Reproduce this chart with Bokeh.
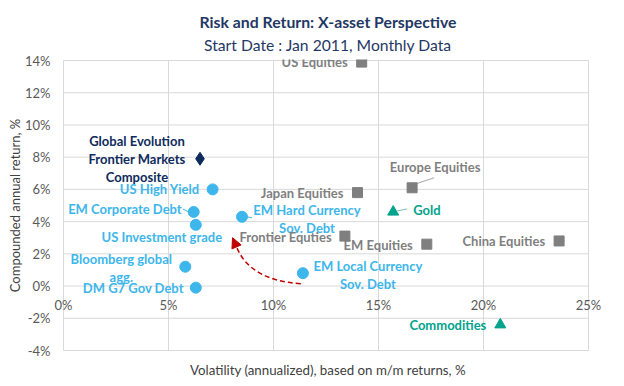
from bokeh.plotting import figure
from bokeh.models import (ColumnDataSource, Range1d, FixedTicker, PrintfTickFormatter,
                          Title, Arrow, NormalHead)
from bokeh.core.properties import value
from bokeh.embed import file_html
from bokeh.resources import INLINE

# ---------------- data ----------------
names = ["US Equities", "Global Evolution\nFrontier Markets\nComposite", "US High Yield",
         "EM Corporate Debt", "US Investment grade", "EM Hard Currency\nSov. Debt",
         "Bloomberg global\nagg.", "DM G7 Gov Debt", "EM Local Currency\nSov. Debt",
         "Japan Equities", "Europe Equities", "Gold", "Frontier Equties", "EM Equities",
         "China Equities", "Commodities"]
volatility = [14.2, 6.5, 7.1, 6.2, 6.3, 8.5, 5.8, 6.3, 11.4, 14.0, 16.6, 15.7, 13.4, 17.3, 23.6, 20.8]
ret = [13.9, 7.9, 6.0, 4.6, 3.8, 4.3, 1.2, -0.1, 0.8, 5.8, 6.1, 4.6, 3.1, 2.6, 2.8, -2.4]
kind = ["equity", "frontier", "bond", "bond", "bond", "bond", "bond", "bond", "bond",
        "equity", "equity", "commodity", "equity", "equity", "equity", "commodity"]

x_ticks = [0, 5, 10, 15, 20, 25]
y_ticks = [-4, -2, 0, 2, 4, 6, 8, 10, 12, 14]

# ---------------- styling ----------------
STYLE = {
    "bond": ("circle", "#3DB6EB", 11),
    "equity": ("square", "#7F7F7F", 10),
    "commodity": ("triangle", "#00A38C", 11),
    "frontier": ("diamond", "#0E2B5C", 13),
}
TEXT_COLOR = {"bond": "#3DB6EB", "equity": "#7F7F7F", "commodity": "#00A38C", "frontier": "#0E2B5C"}

# label placement (pixels relative to the marker; +dy is down on screen)
lab_dx = [-14, -63, -13, -12, -34, 65, -64, -12, 65, -14, 23, 20, -13, -14, -14, -14]
lab_dy = [0, 0, 0, -3, 12, 2, 1, 0, 1.5, 0, -21, -2, 1, 1, 0, 0]
lab_align = ["right", "center", "right", "right", "center", "center", "center", "right",
             "center", "right", "center", "left", "right", "right", "right", "right"]

src = ColumnDataSource(dict(
    x=volatility, y=ret, name=names,
    marker=[STYLE[k][0] for k in kind],
    color=[STYLE[k][1] for k in kind],
    size=[STYLE[k][2] for k in kind],
    tcolor=[TEXT_COLOR[k] for k in kind],
    dx=lab_dx, dy=lab_dy, align=lab_align,
))

FONT = "Lato"
GRID = "#D9D9D9"

# pixel geometry: 21 px per 1% of volatility, 290 px for the 18% return span
PX_X = 21.0
PX_Y = 290.0 / 18.0
PAD_L, PAD_R, PAD_V = 11, 15, 1   # room inside the frame for the edge tick labels

x0, x1 = x_ticks[0], x_ticks[-1]
y0, y1 = y_ticks[0], y_ticks[-1]

p = figure(width=624, height=386,
           x_range=Range1d(x0 - PAD_L / PX_X, x1 + PAD_R / PX_X),
           y_range=Range1d(y0 - PAD_V / PX_Y, y1 + PAD_V / PX_Y),
           output_backend="svg", toolbar_location=None,
           min_border_left=52, min_border_right=21, min_border_top=59, min_border_bottom=35)
p.background_fill_color = "white"
p.border_fill_color = "white"
p.outline_line_color = None
p.xgrid.visible = False
p.ygrid.visible = False

# grid drawn only over the 0..25 / -4..14 box
p.segment(x0=x_ticks, y0=[y0] * len(x_ticks), x1=x_ticks, y1=[y1] * len(x_ticks),
          line_color=GRID, line_width=1)
p.segment(x0=[x0] * len(y_ticks), y0=y_ticks, x1=[x1] * len(y_ticks), y1=y_ticks,
          line_color=GRID, line_width=1)

# x axis sits on the 0% line
xa = p.xaxis[0]
xa.fixed_location = 0
xa.ticker = FixedTicker(ticks=x_ticks)
xa.formatter = PrintfTickFormatter(format="%d%%")
xa.axis_line_color = None
xa.major_tick_line_color = None
xa.minor_tick_line_color = None
xa.major_tick_out = 0
xa.major_tick_in = 0
xa.major_label_standoff = 11
xa.major_label_text_font = FONT
xa.major_label_text_font_size = "13px"
xa.major_label_text_color = "#595959"

ya = p.yaxis[0]
ya.ticker = FixedTicker(ticks=y_ticks)
ya.formatter = PrintfTickFormatter(format="%d%%")
ya.axis_line_color = None
ya.major_tick_line_color = None
ya.minor_tick_line_color = None
ya.major_tick_out = 0
ya.major_tick_in = 0
ya.major_label_standoff = 2
ya.major_label_text_font = FONT
ya.major_label_text_font_size = "13px"
ya.major_label_text_color = "#595959"
ya.axis_label = "Compounded annual return, %"
ya.axis_label_text_font = FONT
ya.axis_label_text_font_style = "normal"
ya.axis_label_text_font_size = "13px"
ya.axis_label_text_color = "#404040"
ya.axis_label_standoff = -1

# titles
p.add_layout(Title(text="Start Date : Jan 2011, Monthly Data", align="center",
                   text_font=FONT, text_font_size="15.7px", text_font_style="normal",
                   text_color="#1F3864", offset=6, standoff=11), "above")
p.add_layout(Title(text="Risk and Return: X-asset Perspective", align="center",
                   text_font=FONT, text_font_size="15.8px", text_font_style="bold",
                   text_color="#1F3864", offset=6, standoff=-4), "above")
p.add_layout(Title(text="Volatility (annualized), based on m/m returns, %", align="center",
                   text_font=FONT, text_font_size="13.3px", text_font_style="normal",
                   text_color="#404040", standoff=17), "below")

# dashed arrow annotation (data coordinates)
arr_start = (11.3, 0.15)
arr_ctrl = (8.9, 0.35)
arr_end = (8.25, 2.4)
arr_tip = (8.05, 3.0)
p.quadratic(x0=[arr_start[0]], y0=[arr_start[1]], x1=[arr_end[0]], y1=[arr_end[1]],
            cx=[arr_ctrl[0]], cy=[arr_ctrl[1]], line_color="#C00000", line_width=1.5,
            line_dash="5 3")
p.add_layout(Arrow(end=NormalHead(size=10, fill_color="#C00000", line_color="#C00000"),
                   x_start=arr_end[0], y_start=arr_end[1], x_end=arr_tip[0], y_end=arr_tip[1],
                   line_alpha=0))

# leader lines: (index, start px offset, end px offset), +y up
leaders = [(3, (-11, 3), (-5, 0), "#3DB6EB"), (5, (5, 0), (10, -1), "#3DB6EB"),
           (10, (4, 4), (22, 10), "#A6A6A6"), (11, (4, 1), (14, 3), "#7FBFB5")]
for i, a, b, c in leaders:
    p.segment(x0=[volatility[i] + a[0] / PX_X], y0=[ret[i] + a[1] / PX_Y],
              x1=[volatility[i] + b[0] / PX_X], y1=[ret[i] + b[1] / PX_Y],
              line_color=c, line_width=1)

# markers
p.scatter(x="x", y="y", marker="marker", size="size", fill_color="color",
          line_color="color", source=src)

# labels
p.text(x="x", y="y", text="name", x_offset="dx", y_offset="dy", text_align="align",
       text_baseline="middle", text_color="tcolor", text_font=value(FONT),
       text_font_style="bold", text_font_size="13px", text_line_height=1.12, source=src)

open("out.html", "w").write(file_html(p, INLINE))
